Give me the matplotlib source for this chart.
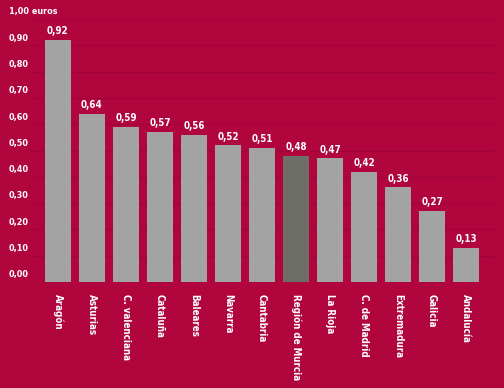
import matplotlib as mpl
mpl.use('Agg')
import matplotlib.pyplot as plt
from matplotlib import font_manager

regiones = ["Aragón", "Asturias", "C. valenciana", "Cataluña", "Baleares", "Navarra",
            "Cantabria", "Región de Murcia", "La Rioja", "C. de Madrid", "Extremadura",
            "Galicia", "Andalucía"]
valores = [0.92, 0.64, 0.59, 0.57, 0.56, 0.52, 0.51, 0.48, 0.47, 0.42, 0.36, 0.27, 0.13]
destacado = "Región de Murcia"
yticks = [0.0, 0.1, 0.2, 0.3, 0.4, 0.5, 0.6, 0.7, 0.8, 0.9, 1.0]

fondo = '#B0053D'
gris = '#A3A3A3'
gris_osc = '#6E6E69'

nombres = set(f.name for f in font_manager.fontManager.ttflist)
print(sorted(nombres))
fuente = ['DejaVu Sans']
estiro = 'condensed'

fig = plt.figure(figsize=(5.04, 3.88), dpi=100, facecolor=fondo)
ax = fig.add_axes([30/504, 106/388, 465/504, 263/388])
ax.set_facecolor(fondo)

colores = [gris_osc if r == destacado else gris for r in regiones]
x = range(len(regiones))
ax.bar(x, valores, width=0.76, color=colores, zorder=2)

for xi, v in zip(x, valores):
    ax.text(xi, v + 0.014, ('%.2f' % v).replace('.', ','), ha='center', va='bottom',
            color='white', fontsize=7, fontweight='bold', family=fuente, fontstretch=estiro)

ax.set_xlim(-0.82, len(regiones) - 0.15)
ax.set_ylim(0, 1.0)
ax.set_yticks(yticks)
etiquetas = [('%.2f' % t).replace('.', ',') for t in yticks]
etiquetas[-1] = etiquetas[-1] + ' euros'
ax.set_yticklabels([])
for t, lab in zip(yticks, etiquetas):
    ax.text(-1.44, t + 0.01, lab, ha='left', va='bottom', color='white', fontsize=6.5,
            fontweight='bold', family=fuente, fontstretch=estiro, clip_on=False)
ax.tick_params(axis='y', length=0)
ax.grid(axis='y', color='#A00439', linewidth=0.8, zorder=0)

ax.set_xticks(list(x))
ax.set_xticklabels(regiones, rotation=270, color='white', fontsize=7, fontweight='bold',
                   family=fuente, fontstretch=estiro, va='top', ha='center')
ax.tick_params(axis='x', length=0, pad=9)

for s in ax.spines.values():
    s.set_visible(False)

fig.savefig('out.png', dpi=100, facecolor=fondo)
